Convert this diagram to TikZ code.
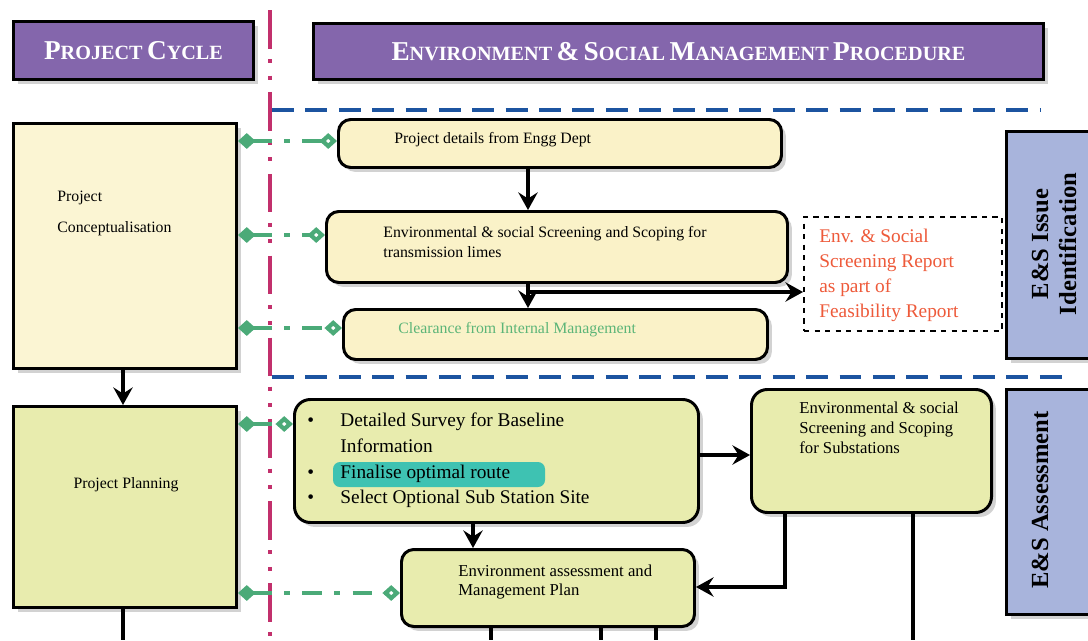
\documentclass[tikz,border=0pt]{standalone}
\usepackage{fontspec}
\setmainfont{Liberation Serif}
\usetikzlibrary{arrows.meta,shadows}

\definecolor{hdrpurple}{HTML}{8466AC}
\definecolor{cream}{HTML}{FAF2C8}
\definecolor{lime}{HTML}{E8ECAE}
\definecolor{sideblue}{HTML}{A8B4DC}
\definecolor{linkgreen}{HTML}{4BAA78}
\definecolor{cyclepink}{HTML}{C2306C}
\definecolor{zoneblue}{HTML}{1C54A0}
\definecolor{reportred}{HTML}{EE5A3A}
\definecolor{marker}{HTML}{3EC2B2}
\definecolor{cleargreen}{HTML}{5CB578}

\newcommand\px{0.02cm}
\newcommand\hsc[2]{{\fontsize{15.5}{18}\selectfont #1}{\fontsize{11.5}{14}\selectfont #2}}

\begin{document}
\begin{tikzpicture}[x=0.02cm,y=-0.02cm,
    shade box/.style={draw=black, line width=1.7pt, anchor=north west,
      drop shadow={shadow xshift=2.5pt, shadow yshift=-2.5pt, fill=black!35}},
    flowbox/.style={shade box, rounded corners=7pt},
    txt/.style={anchor=west, align=left, inner sep=0pt, font=\fontsize{9}{11.3}\selectfont},
    flow/.style={line width=1.9pt, -{Stealth[length=10pt, width=11pt, inset=3.5pt]}},
    wire/.style={line width=1.9pt},
    link/.style={draw=linkgreen, line width=2.4pt, dash pattern=on 11pt off 7pt on 3.5pt off 7pt,
      {Diamond[length=10pt, width=9pt]}-{Diamond[open, fill=white, length=10pt, width=9pt]}},
    zone/.style={draw=zoneblue, line width=2.3pt, dash pattern=on 12.5pt off 6.5pt}]

  \useasboundingbox (0,0) rectangle (1088,640);

  % headers
  \begin{scope}[every node/.style={shade box, fill=hdrpurple, text=white, font=\bfseries}]
    \node[minimum width=240*\px, minimum height=58*\px] (pc) at (12,20)
      {\hsc{P}{ROJECT} \hsc{C}{YCLE}};
    \node[minimum width=730*\px, minimum height=56*\px] (esmp) at (312,22)
      {\hsc{E}{NVIRONMENT} \hsc{\&}{} \hsc{S}{OCIAL} \hsc{M}{ANAGEMENT} \hsc{P}{ROCEDURE}};
  \end{scope}

  % divider and zones
  \draw[cyclepink, line width=2.3pt, dash pattern=on 22pt off 6pt on 2.3pt off 7pt on 2.3pt off 7pt]
    (270,10) -- (270,640);
  \draw[zone] (272,110) -- (1040,110);
  \draw[zone] (272,377) -- (1068,377);

  % project cycle
  \node[shade box, fill=cream!80!white, minimum width=223*\px, minimum height=245*\px] (concept) at (12,122) {};
  \node[shade box, fill=lime, minimum width=223*\px, minimum height=201*\px] (planning) at (12,405) {};
  \node[txt, font=\fontsize{9}{17.6}\selectfont] at (57,213.5) {Project\\Conceptualisation};
  \node[txt, anchor=center] at (126,485) {Project Planning};

  % issue identification
  \node[flowbox, fill=cream, minimum width=443*\px, minimum height=48*\px] (details) at (337,118) {};
  \node[flowbox, fill=cream, minimum width=461*\px, minimum height=71*\px] (screen) at (325,210) {};
  \node[flowbox, fill=cream, minimum width=424*\px, minimum height=50*\px] (clear) at (342,308) {};
  \node[draw, dashed, line width=1.1pt, fill=white, anchor=north west,
    minimum width=198*\px, minimum height=114*\px] (report) at (803,216) {};
  \node[txt] at (394,140) {Project details from Engg Dept};
  \node[txt] at (383,242) {Environmental \& social Screening and Scoping for\\transmission limes};
  \node[txt, text=cleargreen] at (398,330) {Clearance from Internal Management};
  \node[txt, text=reportred, font=\fontsize{11}{14.2}\selectfont] at (819,275.5)
    {Env. \& Social\\Screening Report\\as part of\\Feasibility Report};

  % assessment
  \node[flowbox, fill=lime, rounded corners=9pt, minimum width=404*\px, minimum height=123*\px] (survey) at (293,398) {};
  \node[flowbox, fill=lime, rounded corners=9pt, minimum width=240*\px, minimum height=123*\px] (subst) at (750,388) {};
  \node[flowbox, fill=lime, minimum width=293*\px, minimum height=77*\px] (eamp) at (400,548) {};
  \fill[marker, rounded corners=4pt] (333,462) rectangle (545,487);
  \node[txt, font=\fontsize{11}{14.7}\selectfont] at (307,460)
    {\begin{tabular}{@{}l@{\hspace{15pt}}l@{}}
      \textbullet & Detailed Survey for Baseline\\
                  & Information\\
      \textbullet & Finalise optimal route\\
      \textbullet & Select Optional Sub Station Site
     \end{tabular}};
  \node[txt, font=\fontsize{9.5}{11.3}\selectfont] at (799,428)
    {Environmental \& social\\Screening and Scoping\\for Substations};
  \node[txt, font=\fontsize{9.5}{11.3}\selectfont] at (458,582)
    {Environment assessment and\\Management Plan};

  % side labels
  \node[shade box, fill=sideblue, minimum width=100*\px, minimum height=227*\px] (idbox) at (1005,130) {};
  \node[shade box, fill=sideblue, minimum width=100*\px, minimum height=225*\px] (asbox) at (1005,388) {};
  \node[rotate=90, align=center, font=\bfseries\fontsize{14}{16}\selectfont] at (1054,244)
    {E\&S Issue\\Identification};
  \node[rotate=90, font=\bfseries\fontsize{14}{16}\selectfont] at (1040,500) {E\&S Assessment};

  % flow arrows
  \coordinate (split) at (528,292);
  \draw[flow] (concept.south -| 123,0) -- (planning.north -| 123,0);
  \draw[wire] (planning.south -| 123,0) -- (123,640);
  \draw[flow] (details.south -| split) -- (screen.north -| split);
  \draw[wire] (screen.south -| split) -- (split);
  \draw[flow] (split) -- (clear.north -| split);
  \draw[flow] (split) -- (report.west |- split);
  \draw[flow] (survey.east |- 0,455) -- (subst.west |- 0,455);
  \draw[flow] (survey.south -| 473,0) -- (eamp.north -| 473,0);
  \draw[flow] (subst.south -| 785,0) -- (785,587) -- (eamp.east |- 0,587);
  \draw[wire] (subst.south -| 913,0) -- (913,640);
  \foreach \x in {491,601,656}
    \draw[wire] (eamp.south -| \x,0) -- (\x,640);

  % links between cycle and procedure
  \path[link] (concept.east |- 0,141) -- (details.west |- 0,141);
  \path[link] (concept.east |- 0,235) -- (screen.west |- 0,235);
  \path[link] (concept.east |- 0,328) -- (clear.west |- 0,328);
  \path[link] (planning.east |- 0,424) -- (survey.west |- 0,424);
  \path[link] (planning.east |- 0,593) -- (eamp.west |- 0,593);

\end{tikzpicture}
\end{document}
